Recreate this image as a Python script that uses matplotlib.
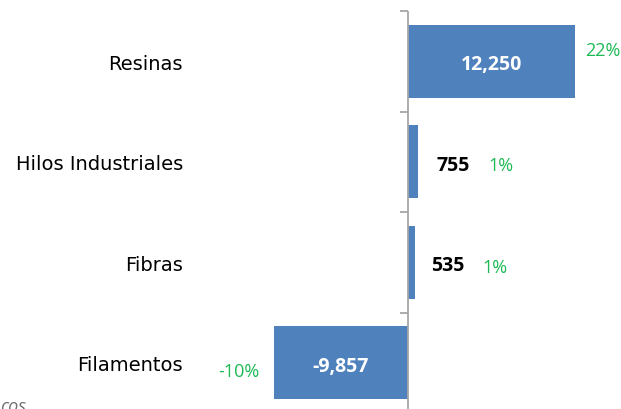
import numpy as np
import matplotlib.pyplot as plt

plt.rcParams['font.family'] = ['Open Sans', 'DejaVu Sans']

# data
categories = ["Resinas", "Hilos Industriales", "Fibras", "Filamentos"]
values = [12250, 755, 535, -9857]
value_labels = ["12,250", "755", "535", "-9,857"]
pct_labels = ["22%", "1%", "1%", "-10%"]

bar_color = "#4F81BD"
green = "#1DB954"
axis_gray = "#A6A6A6"

fig = plt.figure(figsize=(6.21, 4.10), dpi=100)
ax = fig.add_axes([0, -4 / 410, 1, 402 / 410])

y = np.arange(len(categories))
ax.barh(y, values, height=0.73, color=bar_color, zorder=2)

ax.set_xlim(-30000, 15660)
ax.set_ylim(3.5, -0.5)

# only the vertical axis at zero is shown (set position first, it resets ticks)
ax.spines["left"].set_position(("data", 0))
for side in ["top", "bottom", "right", "left"]:
    ax.spines[side].set_visible(False)
ax.axvline(0, color=axis_gray, lw=1.3, zorder=3)
ax.set_xticks([])

# category boundary ticks (minor) and labels placed far to the left
ax.set_yticks(y)
ax.set_yticklabels(categories, fontsize=14, family="DejaVu Sans")
ax.tick_params(axis="y", which="major", length=0, pad=162)
ax.set_yticks(np.arange(len(categories)) - 0.5, minor=True)
ax.tick_params(axis="y", which="minor", length=6, width=1.3, color=axis_gray)

# value labels
val_x = [values[0] / 2, 3310, 2940, values[3] / 2]
val_col = ["white", "black", "black", "white"]
for i in range(len(categories)):
    ax.text(val_x[i], y[i] + 0.03, value_labels[i], ha="center", va="center",
            fontsize=14, fontweight="bold", color=val_col[i], zorder=4)

# percentage labels
pct_x = [14340, 6840, 6400, -12430]
pct_dy = [-0.11, 0.03, 0.05, 0.08]
for i in range(len(categories)):
    ax.text(pct_x[i], y[i] + pct_dy[i], pct_labels[i], ha="center", va="center",
            fontsize=13, color=green, zorder=4)

fig.text(0.0, -2 / 410, "cos", ha="left", va="baseline", fontsize=13,
         style="italic", color="#6F6F6F")

fig.savefig("out.png", dpi=100)
